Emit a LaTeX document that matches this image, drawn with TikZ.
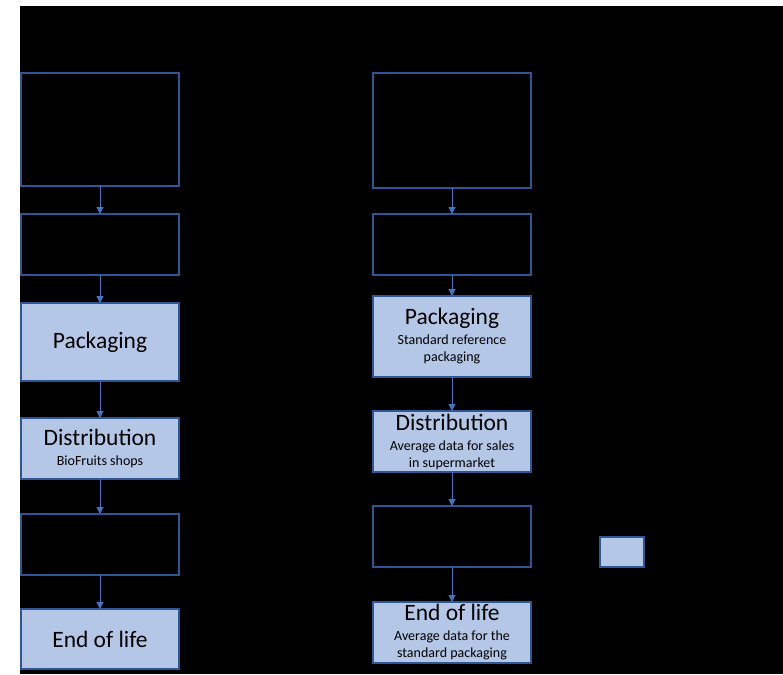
\documentclass[tikz,border=0pt]{standalone}
\usepackage{fontspec}
\setmainfont{Carlito}
\usetikzlibrary{arrows.meta,positioning}
\definecolor{StageBlue}{HTML}{2F5597}
\definecolor{ArrowBlue}{HTML}{4472C4}
\definecolor{SoftBlue}{HTML}{B4C7E7}
\newcommand{\subline}{\fontsize{14}{17}\selectfont}

\begin{document}
\begin{tikzpicture}[x=1pt,y=-1pt,>={Triangle[length=7pt,width=7pt]},font=\fontsize{23.5}{26}\selectfont]
\tikzset{emptybox/.style={draw=StageBlue,line width=1.2pt,fill=black,minimum width=158pt,inner sep=0pt,outer sep=0pt},
         phasebox/.style={draw=StageBlue,line width=1.2pt,fill=SoftBlue,minimum width=158pt,inner sep=0pt,outer sep=0pt,align=center},
         flow/.style={->,draw=ArrowBlue,fill=ArrowBlue,line width=1pt}}
\useasboundingbox (0,0) rectangle (783,674);
\fill[black] (20,6) rectangle (783,674);
% left chain
\node[emptybox,minimum height=113pt] (l1) at (100,129.5) {};
\node[emptybox,minimum height=61pt,below=28pt of l1] (l2) {};
\node[phasebox,minimum height=78pt,below=28pt of l2] (l3) {Packaging};
\node[phasebox,minimum height=61pt,below=37pt of l3] (l4) {Distribution\\[-6pt]{\subline BioFruits shops}};
\node[emptybox,minimum height=61pt,below=35pt of l4] (l5) {};
\node[phasebox,minimum height=60pt,below=34pt of l5] (l6) {End of life};
% right chain
\node[emptybox,minimum height=115pt] (r1) at (452,130.5) {};
\node[emptybox,minimum height=61pt,below=26pt of r1] (r2) {};
\node[phasebox,minimum height=81pt,below=21pt of r2] (r3) {Packaging\\[-6pt]{\subline Standard reference}\\[-9pt]{\subline packaging}};
\node[phasebox,minimum height=61pt,below=34pt of r3] (r4) {Distribution\\[-6pt]{\subline Average data for sales}\\[-9pt]{\subline in supermarket}};
\node[emptybox,minimum height=61pt,below=34pt of r4] (r5) {};
\node[phasebox,minimum height=61pt,below=35pt of r5] (r6) {End of life\\[-6pt]{\subline Average data for the}\\[-9pt]{\subline standard packaging}};
% legend swatch
\node[phasebox,minimum width=44pt,minimum height=30pt] (key) at (622,552) {};
\draw[flow] (l1)--(l2);
\draw[flow] (l2)--(l3);
\draw[flow] (l3)--(l4);
\draw[flow] (l4)--(l5);
\draw[flow] (l5)--(l6);
\draw[flow] (r1)--(r2);
\draw[flow] (r2)--(r3);
\draw[flow] (r3)--(r4);
\draw[flow] (r4)--(r5);
\draw[flow] (r5)--(r6);
\end{tikzpicture}
\end{document}
